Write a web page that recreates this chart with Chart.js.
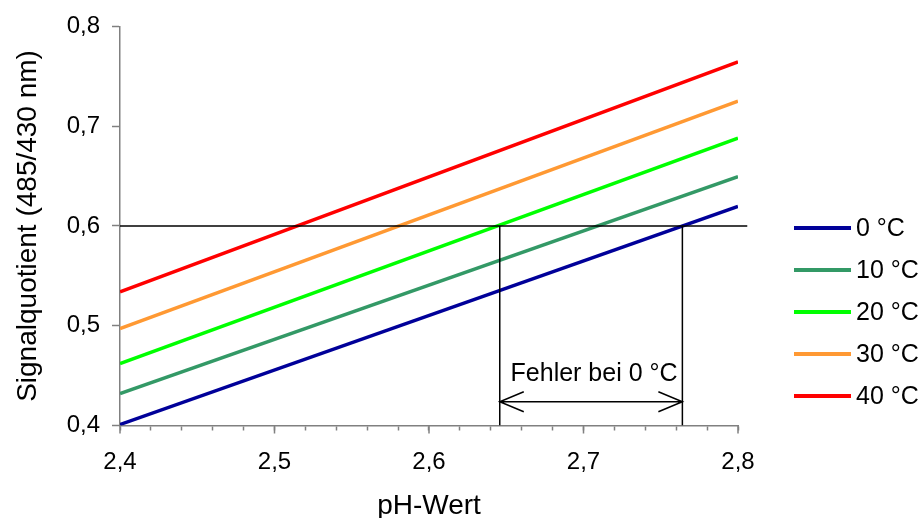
<!DOCTYPE html>
<html>
<head>
<meta charset="utf-8">
<script src="https://cdn.jsdelivr.net/npm/chart.js@4"></script>
<style>
html, body { margin: 0; padding: 0; background: #fff; }
</style>
</head>
<body>
<canvas id="myChart" width="922" height="518"></canvas>
<script>
// pH range and signal ratio per temperature
const phValues = [2.4, 2.8];
const temps = ['0 °C', '10 °C', '20 °C', '30 °C', '40 °C'];
const ratio0 = [0.401, 0.6195];
const ratio10 = [0.432, 0.6495];
const ratio20 = [0.462, 0.688];
const ratio30 = [0.497, 0.725];
const ratio40 = [0.534, 0.7645];
const colors = ['#000099', '#339966', '#00ff00', '#ff9933', '#ff0000'];

const xTicks = [2.4, 2.5, 2.6, 2.7, 2.8];
const yTicks = [0.4, 0.5, 0.6, 0.7, 0.8];

// annotation: reference level and error range at 0 °C
const refLevel = 0.6;
const refLineX = [2.4, 2.806];
const errorX = [2.6458, 2.764];
const arrowY = 0.4238;
const labelY = 0.4445;
const errorLabel = 'Fehler bei 0 °C';

const fontFamily = '"Liberation Sans", Arial, sans-serif';
const comma = v => v.toFixed(1).replace('.', ',');

function series(vals) {
    return phValues.map((x, i) => ({x: x, y: vals[i]}));
}

const allRatios = [ratio0, ratio10, ratio20, ratio30, ratio40];

const helperSets = [{
    label: 'ref',
    data: refLineX.map(x => ({x: x, y: refLevel})),
    borderColor: '#000',
    borderWidth: 1.5,
    clip: false
}].concat(errorX.map(x => ({
    label: 'err',
    data: [{x: x, y: yTicks[0]}, {x: x, y: refLevel}],
    borderColor: '#000',
    borderWidth: 1.5
})));

const tempSets = temps.map((t, i) => ({
    label: t,
    data: series(allRatios[i]),
    borderColor: colors[i],
    backgroundColor: colors[i],
    borderWidth: 3.5
}));

const annotate = {
    id: 'annotate',
    afterDatasetsDraw(chart) {
        const ctx = chart.ctx;
        const xs = chart.scales.x, ys = chart.scales.y;
        const x1 = xs.getPixelForValue(errorX[0]);
        const x2 = xs.getPixelForValue(errorX[1]);
        const ay = ys.getPixelForValue(arrowY);
        ctx.save();
        ctx.strokeStyle = '#000';
        ctx.lineWidth = 1.5;
        ctx.beginPath();
        ctx.moveTo(x1, ay); ctx.lineTo(x2, ay);
        ctx.moveTo(x1 + 24, ay - 10); ctx.lineTo(x1, ay); ctx.lineTo(x1 + 24, ay + 10);
        ctx.moveTo(x2 - 24, ay - 10); ctx.lineTo(x2, ay); ctx.lineTo(x2 - 24, ay + 10);
        ctx.stroke();
        ctx.fillStyle = '#000';
        ctx.font = '25px ' + fontFamily;
        ctx.textAlign = 'center';
        ctx.textBaseline = 'alphabetic';
        ctx.fillText(errorLabel, (x1 + x2) / 2 + 3, ys.getPixelForValue(labelY));

        // longer ticks at the labelled x positions
        ctx.strokeStyle = '#808080';
        ctx.beginPath();
        xTicks.forEach(v => {
            const px = xs.getPixelForValue(v);
            ctx.moveTo(px, xs.top); ctx.lineTo(px, xs.top + 8);
        });
        ctx.stroke();

        // legend
        const lx = chart.chartArea.right + 56;
        ctx.font = '25px ' + fontFamily;
        ctx.textAlign = 'left';
        ctx.textBaseline = 'middle';
        tempSets.forEach((ds, i) => {
            const y = 228 + i * 42;
            ctx.strokeStyle = ds.borderColor;
            ctx.lineWidth = 4;
            ctx.beginPath();
            ctx.moveTo(lx, y); ctx.lineTo(lx + 57, y);
            ctx.stroke();
            ctx.fillStyle = '#000';
            ctx.fillText(ds.label, lx + 62, y + 1);
        });
        ctx.restore();
    }
};

new Chart(document.getElementById('myChart'), {
    type: 'scatter',
    data: {datasets: helperSets.concat(tempSets)},
    options: {
        responsive: false,
        animation: false,
        showLine: true,
        elements: {point: {radius: 0, hoverRadius: 0}, line: {tension: 0}},
        layout: {padding: {top: 25, right: 184, left: 0, bottom: 0}},
        plugins: {legend: {display: false}, tooltip: {enabled: false}},
        scales: {
            x: {
                type: 'linear',
                min: xTicks[0],
                max: xTicks[xTicks.length - 1],
                afterFit: s => { s.height = 92.5; },
                border: {color: '#808080', width: 1.5},
                grid: {drawOnChartArea: false, tickLength: 5, tickColor: '#808080', tickWidth: 1.5},
                ticks: {
                    stepSize: 0.02,
                    autoSkip: false,
                    maxRotation: 0,
                    padding: 17,
                    color: '#000',
                    font: {family: fontFamily, size: 24},
                    callback: v => {
                        const t = xTicks.find(t => Math.abs(t - v) < 1e-6);
                        return t === undefined ? '' : comma(t);
                    }
                },
                title: {
                    display: true,
                    text: 'pH-Wert',
                    color: '#000',
                    font: {family: fontFamily, size: 28},
                    padding: {top: 0, bottom: -5}
                }
            },
            y: {
                min: yTicks[0],
                max: yTicks[yTicks.length - 1],
                afterFit: s => { s.width = 120; },
                border: {color: '#808080', width: 1.5},
                grid: {drawOnChartArea: false, tickLength: 8, tickColor: '#808080', tickWidth: 1.5},
                ticks: {
                    stepSize: 0.1,
                    padding: 12,
                    color: '#000',
                    font: {family: fontFamily, size: 24},
                    callback: v => comma(v)
                },
                title: {
                    display: true,
                    text: 'Signalquotient (485/430 nm)',
                    color: '#000',
                    font: {family: fontFamily, size: 28},
                    padding: {top: 11, bottom: 0}
                }
            }
        }
    },
    plugins: [annotate]
});
</script>
</body>
</html>
